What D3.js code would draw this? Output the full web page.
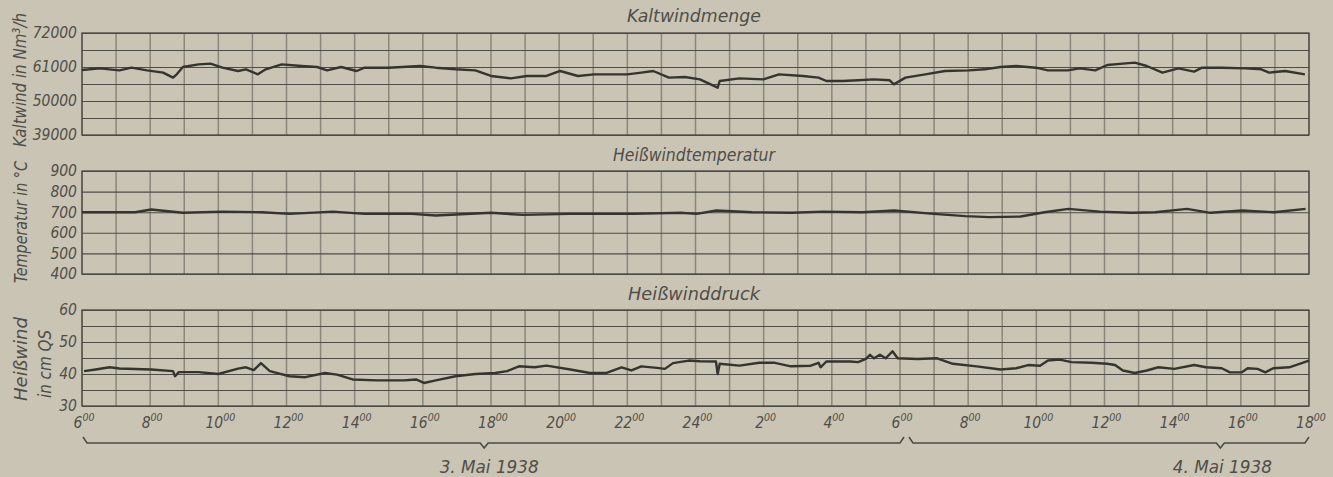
<!DOCTYPE html>
<html>
<head>
<meta charset="utf-8">
<style>
  body { margin: 0; background: #c9c4b4; }
  svg text {
    font-family: "DejaVu Sans Condensed", "Liberation Sans Narrow", sans-serif;
    font-style: italic;
    fill: #4f4e48;
  }
</style>
<title>Winddaten Hochofen</title>
</head>
<body>
<svg id="chart" width="1333" height="477"></svg>
<script src="https://cdn.jsdelivr.net/npm/d3@7/dist/d3.min.js"></script>
<script>
// hours counted from 6:00 on 3 May 1938
var timeLabels = ["6","8","10","12","14","16","18","20","22","24","2","4","6","8","10","12","14","16","18"];
var dayLabels = ["3. Mai 1938", "4. Mai 1938"];
var dayFrom = [0, 24];
var dayTo = [24, 36];
var dayMark = [11.8, 33.4];

// Kaltwindmenge, Nm3/h
var kaltTicks = [39000, 50000, 61000, 72000];
var kaltHours = [0,0.52,1.1,1.45,1.91,2.38,2.67,2.78,2.96,3.42,3.77,4.12,4.58,4.81,5.16,5.39,5.86,6.44,6.9,7.19,7.6,8.06,8.29,8.99,9.92,10.38,10.96,11.54,12.0,12.58,13.05,13.63,14.03,14.55,15.02,15.6,16.0,16.41,16.76,17.22,17.69,18.13,18.65,18.71,19.29,19.99,20.45,21.15,21.61,21.84,22.31,22.77,23.24,23.7,23.82,24.16,24.74,25.32,26.02,26.48,26.95,27.41,27.99,28.34,28.92,29.27,29.73,30.08,30.54,30.89,31.24,31.7,32.17,32.63,32.86,33.44,34.14,34.6,34.83,35.3,35.88];
var kaltValues = [60030,60570,59920,60780,59920,59170,57550,58630,61000,61860,62080,60780,59710,60250,58630,60250,61860,61320,61000,59920,61000,59710,60780,60780,61320,60780,60250,59920,58090,57330,58090,58090,59710,58090,58630,58630,58630,59170,59710,57550,57770,57010,54320,56470,57330,57010,58630,58090,57550,56470,56470,56690,57010,56690,55390,57550,58630,59710,59920,60250,61000,61320,60780,59920,59920,60570,59920,61650,62080,62400,61320,59170,60570,59490,60780,60780,60570,60250,59170,59710,58630];

// Heisswindtemperatur, degC
var tempTicks = [400, 500, 600, 700, 800, 900];
var tempHours = [0,1.56,2.03,2.96,4.12,5.28,6.09,7.36,8.29,9.68,10.38,12.0,12.93,14.32,16.18,17.57,18.03,18.61,19.66,20.82,21.75,22.9,23.83,24.99,25.92,26.62,27.54,28.24,28.94,29.86,30.79,31.49,32.42,33.11,34.04,34.97,35.9];
var tempValues = [700,700,713,697,703,700,692,703,692,692,684,697,687,692,692,697,692,708,700,697,703,700,708,692,681,676,679,700,716,703,697,700,716,697,708,700,716];

// Heisswinddruck, cm QS
var druckTicks = [30, 40, 50, 60];
var druckHours = [0.06,0.4,0.81,1.1,2.03,2.67,2.73,2.84,3.42,4.0,4.58,4.81,5.04,5.25,5.51,6.09,6.55,7.13,7.48,7.94,8.64,9.45,9.8,10.03,10.38,10.96,11.54,12.12,12.47,12.82,13.28,13.63,14.33,14.9,15.37,15.83,16.12,16.41,16.87,17.1,17.34,17.8,18.13,18.6,18.65,18.71,19.29,19.87,20.33,20.8,21.38,21.61,21.67,21.84,22.54,22.77,23.0,23.12,23.24,23.41,23.58,23.78,23.93,24.51,25.09,25.55,26.25,26.95,27.41,27.76,28.11,28.34,28.69,29.03,29.62,30.08,30.31,30.54,30.89,31.24,31.58,32.05,32.63,32.98,33.44,33.68,34.02,34.2,34.49,34.72,34.95,35.42,36.0];
var druckValues = [40.9,41.4,42.1,41.7,41.4,40.9,39.3,40.6,40.6,40.0,41.7,42.1,41.2,43.4,40.9,39.3,39.0,40.3,39.8,38.3,38.0,38.0,38.3,37.2,38.0,39.3,40.0,40.3,40.9,42.4,42.1,42.6,41.4,40.3,40.3,42.1,41.1,42.4,41.9,41.6,43.4,44.2,44.0,43.9,40.0,43.2,42.6,43.5,43.5,42.4,42.6,43.5,42.1,43.9,43.9,43.7,44.7,46.0,44.9,46.0,44.9,47.1,44.9,44.7,44.9,43.2,42.4,41.4,41.8,42.8,42.6,44.2,44.5,43.7,43.5,43.2,42.8,41.1,40.3,41.1,42.1,41.6,42.8,42.1,41.8,40.5,40.5,41.8,41.6,40.5,41.8,42.1,44.2];

var svg = d3.select("#chart");
var left = 82, right = 1309;
var x = d3.scaleLinear().domain([0, 36]).range([left, right]);

var panels = [
    { title: "Kaltwindmenge", titleY: 22, titleLen: 134, top: 33, bottom: 135, lo: 39000, hi: 72000, rows: 6,
      ticks: kaltTicks, hours: kaltHours, values: kaltValues,
      axisTitle: [{ t: "Kaltwind in Nm³/h", x: 20, y: 80, len: 134 }] },
    { title: "Heißwindtemperatur", titleY: 161, titleLen: 162, top: 171, bottom: 274, lo: 400, hi: 900, rows: 5,
      ticks: tempTicks, hours: tempHours, values: tempValues,
      axisTitle: [{ t: "Temperatur in °C", x: 21, y: 222, len: 122 }] },
    { title: "Heißwinddruck", titleY: 300, titleLen: 132, top: 310, bottom: 406, lo: 30, hi: 60, rows: 6,
      ticks: druckTicks, hours: druckHours, values: druckValues,
      axisTitle: [{ t: "Heißwind", x: 21, y: 359, len: 84 }, { t: "in cm QS", x: 45, y: 364, len: 68 }] }
];

panels.forEach(function (p) {
    var y = d3.scaleLinear().domain([p.lo, p.hi]).range([p.bottom, p.top]);
    var g = svg.append("g");

    // hour grid
    g.selectAll(".vgrid")
        .data(d3.range(0, 37))
        .enter().append("line")
        .attr("x1", function (d) { return x(d); })
        .attr("x2", function (d) { return x(d); })
        .attr("y1", p.top)
        .attr("y2", p.bottom)
        .style("stroke", "#8a877d")
        .style("stroke-width", 1.5);

    // value grid + labels
    var step = (p.hi - p.lo) / p.rows;
    var gridVals = d3.range(0, p.rows + 1).map(function (i) { return p.lo + i * step; });
    var axis = d3.axisLeft(y)
        .tickValues(gridVals)
        .tickSize(-(right - left))
        .tickPadding(5)
        .tickFormat(function (d) { return p.ticks.indexOf(d) >= 0 ? d : ""; });
    var ax = g.append("g").attr("transform", "translate(" + left + ",0)").call(axis);
    ax.select(".domain").remove();
    ax.selectAll("line").style("stroke", "#4d4c46").style("stroke-width", 1.1);
    ax.selectAll("text")
        .style("font-size", "15.5px")
        .style("font-family", "'DejaVu Sans Condensed', sans-serif")
        .style("font-style", "italic")
        .style("fill", "#4f4e48");

    // frame
    g.append("rect")
        .attr("x", left).attr("y", p.top)
        .attr("width", right - left).attr("height", p.bottom - p.top)
        .style("fill", "none").style("stroke", "#4a4943").style("stroke-width", 1.3);

    // trace
    var pts = p.hours.map(function (h, i) { return [h, p.values[i]]; });
    var line = d3.line()
        .x(function (d) { return x(d[0]); })
        .y(function (d) { return y(d[1]); });
    g.append("path")
        .datum(pts)
        .attr("d", line)
        .style("fill", "none")
        .style("stroke", "#35342f")
        .style("stroke-width", 2.4)
        .style("stroke-linejoin", "round");

    // panel title
    g.append("text")
        .attr("x", 694).attr("y", p.titleY)
        .attr("text-anchor", "middle")
        .attr("textLength", p.titleLen)
        .attr("lengthAdjust", "spacingAndGlyphs")
        .style("font-size", "17px")
        .text(p.title);

    // rotated axis title
    p.axisTitle.forEach(function (a) {
        g.append("text")
            .attr("transform", "translate(" + a.x + "," + a.y + ") rotate(-90)")
            .attr("text-anchor", "middle")
            .attr("dy", "0.35em")
            .attr("textLength", a.len)
            .attr("lengthAdjust", "spacingAndGlyphs")
            .style("font-size", "18px")
            .text(a.t);
    });
});

// time labels with superscript 00
var tl = svg.selectAll(".tlab")
    .data(timeLabels)
    .enter().append("text")
    .attr("x", function (d, i) { return x(i * 2) + 2; })
    .attr("y", 428)
    .attr("text-anchor", "middle")
    .style("font-size", "15.5px");
tl.append("tspan").text(function (d) { return d; });
tl.append("tspan").attr("dy", -7).style("font-size", "10.5px").text("00");

// day brackets
var brace = d3.line();
dayLabels.forEach(function (lab, i) {
    var a = i === 0 ? x(dayFrom[i]) + 1 : x(dayFrom[i]) + 9;
    var b = i === 0 ? x(dayTo[i]) + 4 : x(dayTo[i]);
    var m = x(dayMark[i]);
    svg.append("path")
        .attr("d", brace([[a, 437], [a + 4, 443], [m - 4, 443], [m, 448], [m + 4, 443], [b - 4, 443], [b, 437]]))
        .style("fill", "none")
        .style("stroke", "#4a4943")
        .style("stroke-width", 1.5);
    svg.append("text")
        .attr("x", m + (i === 0 ? 5 : 2))
        .attr("y", 473)
        .attr("text-anchor", "middle")
        .attr("textLength", 99)
        .attr("lengthAdjust", "spacingAndGlyphs")
        .style("font-size", "17px")
        .text(lab);
});
</script>
</body>
</html>
